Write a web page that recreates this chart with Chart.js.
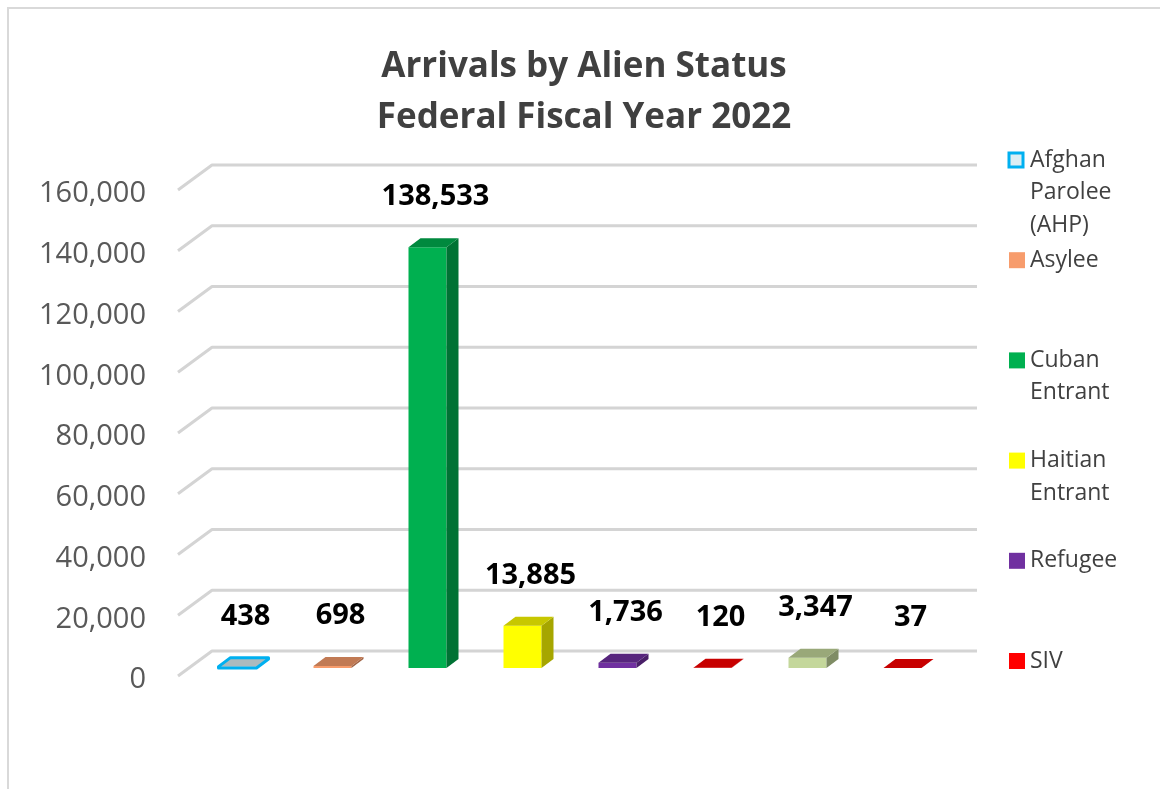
<!DOCTYPE html>
<html>
<head>
<meta charset="utf-8">
<title>Arrivals by Alien Status</title>
<script src="https://cdn.jsdelivr.net/npm/chart.js@4/dist/chart.umd.min.js"></script>
<style>
  html, body { margin: 0; padding: 0; background: #fff; }
  #wrap { position: relative; width: 1160px; height: 789px; }
</style>
</head>
<body>
<div id="wrap"><canvas id="arrivalsChart"></canvas></div>
<script>
// Data
const titleLines = ['Arrivals by Alien Status', 'Federal Fiscal Year 2022'];
const categories = ['Afghan Parolee (AHP)', 'Asylee', 'Cuban Entrant', 'Haitian Entrant', 'Refugee', 'SIV', '', ''];
const arrivals = [438, 698, 138533, 13885, 1736, 120, 3347, 37];
const barColors = ['#dbeef4', '#f79c6c', '#00b050', '#ffff00', '#7030a0', '#ff0000', '#c4d79b', '#ff0000'];
const legendCount = 6; // only six legend entries are visible
const yTicks = [0, 20000, 40000, 60000, 80000, 100000, 120000, 140000, 160000];

// 3D look
const depthX = 12;
const depthY = -9;
const afghanOutline = '#00b0f0';

function shade(hex, f) {
    const n = parseInt(hex.slice(1), 16);
    const r = Math.round(((n >> 16) & 255) * f);
    const g = Math.round(((n >> 8) & 255) * f);
    const b = Math.round((n & 255) * f);
    return 'rgb(' + r + ',' + g + ',' + b + ')';
}

// Outer border + title
const framePlugin = {
    id: 'frame',
    beforeDraw(chart) {
        const c = chart.ctx;
        c.save();
        c.fillStyle = '#fff';
        c.fillRect(0, 0, chart.width, chart.height);
        c.strokeStyle = '#d9d9d9';
        c.lineWidth = 2;
        c.strokeRect(8, 8, chart.width + 40, chart.height + 40);
        c.fillStyle = '#404040';
        c.font = 'bold 35px "Open Sans"';
        c.textAlign = 'center';
        c.textBaseline = 'middle';
        c.fillText(titleLines[0], 584, 67);
        c.fillText(titleLines[1], 584, 118);
        c.restore();
    }
};

// 3D gridlines (front diagonal + back wall line)
const gridPlugin = {
    id: 'grid3d',
    beforeDatasetsDraw(chart) {
        const c = chart.ctx;
        const y = chart.scales.y;
        const area = chart.chartArea;
        c.save();
        c.strokeStyle = '#d4d4d4';
        c.lineWidth = 3;
        c.lineJoin = 'round';
        yTicks.forEach(v => {
            const py = y.getPixelForValue(v);
            c.beginPath();
            c.moveTo(area.left - 12, py + 8);
            c.lineTo(area.left + 22, py - 17);
            c.lineTo(area.right + 27, py - 17);
            c.stroke();
        });
        c.restore();
    }
};

// Bar top/side faces and value labels
const barPlugin = {
    id: 'bars3d',
    afterDatasetsDraw(chart) {
        const c = chart.ctx;
        const meta = chart.getDatasetMeta(0);
        c.save();
        meta.data.forEach((bar, i) => {
            const l = bar.x - bar.width / 2;
            const r = bar.x + bar.width / 2;
            const top = bar.y;
            const base = bar.base;
            // side
            c.fillStyle = shade(barColors[i], 0.65);
            c.beginPath();
            c.moveTo(r, top);
            c.lineTo(r + depthX, top + depthY);
            c.lineTo(r + depthX, base + depthY);
            c.lineTo(r, base);
            c.closePath();
            c.fill();
            // top
            c.fillStyle = shade(barColors[i], 0.78);
            c.beginPath();
            c.moveTo(l, top);
            c.lineTo(l + depthX, top + depthY);
            c.lineTo(r + depthX, top + depthY);
            c.lineTo(r, top);
            c.closePath();
            c.fill();
            if (i === 0) {
                c.strokeStyle = afghanOutline;
                c.lineWidth = 3;
                c.lineJoin = 'round';
                c.beginPath();
                c.moveTo(l, base);
                c.lineTo(l, top);
                c.lineTo(l + depthX, top + depthY);
                c.lineTo(r + depthX, top + depthY);
                c.lineTo(r + depthX, base + depthY);
                c.lineTo(r, base);
                c.closePath();
                c.stroke();
            }
            // value label
            c.fillStyle = '#000';
            c.font = 'bold 29px "Open Sans"';
            c.textAlign = 'center';
            c.textBaseline = 'alphabetic';
            c.fillText(arrivals[i].toLocaleString('en-US'), bar.x + 8, top - 42);
        });
        c.restore();
    }
};

// Legend on the right
const legendPlugin = {
    id: 'sideLegend',
    afterDraw(chart) {
        const c = chart.ctx;
        c.save();
        c.font = '23px "Open Sans"';
        c.textBaseline = 'middle';
        c.textAlign = 'left';
        for (let i = 0; i < legendCount; i++) {
            const cy = 160 + i * 100.2;
            if (i === 0) {
                c.fillStyle = barColors[0];
                c.fillRect(1009, cy - 7, 14, 14);
                c.strokeStyle = afghanOutline;
                c.lineWidth = 3;
                c.strokeRect(1009, cy - 7, 14, 14);
            } else {
                c.fillStyle = barColors[i];
                c.fillRect(1009, cy - 8, 16, 16);
            }
            // wrap words into lines
            const words = categories[i].split(' ');
            const lines = [];
            let cur = '';
            words.forEach(w => {
                const test = cur ? cur + ' ' + w : w;
                if (cur && c.measureText(test).width > 100) {
                    lines.push(cur);
                    cur = w;
                } else {
                    cur = test;
                }
            });
            lines.push(cur);
            c.fillStyle = '#404040';
            lines.forEach((t, k) => c.fillText(t, 1030, cy + k * 32.5));
        }
        c.restore();
    }
};

const ctx = document.getElementById('arrivalsChart').getContext('2d');
const chart = new Chart(ctx, {
    type: 'bar',
    data: {
        labels: categories,
        datasets: [{
            label: 'Arrivals',
            data: arrivals,
            backgroundColor: barColors,
            borderWidth: 0,
            barPercentage: 0.4,
            categoryPercentage: 1.0
        }]
    },
    options: {
        responsive: true,
        maintainAspectRatio: false,
        animation: false,
        layout: {
            padding: { top: 182, bottom: 121, left: 0, right: 210 }
        },
        plugins: {
            legend: { display: false },
            title: { display: false },
            tooltip: { enabled: false }
        },
        scales: {
            x: {
                display: false
            },
            y: {
                min: 0,
                max: 160000,
                afterBuildTicks: scale => {
                    scale.ticks = yTicks.map(v => ({ value: v }));
                },
                afterFit: scale => {
                    scale.width = 190;
                },
                grid: { display: false, drawTicks: false },
                border: { display: false },
                ticks: {
                    padding: 44,
                    labelOffset: 12,
                    color: '#595959',
                    font: { family: 'Open Sans', size: 29 },
                    callback: v => v.toLocaleString('en-US')
                }
            }
        }
    },
    plugins: [framePlugin, gridPlugin, barPlugin, legendPlugin]
});
</script>
</body>
</html>
